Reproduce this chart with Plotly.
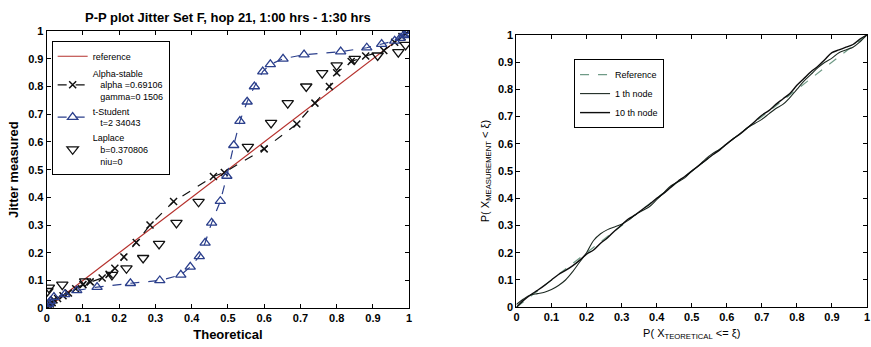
import plotly.graph_objects as go

# ---------------- Left chart data ----------------
ref_x = [0, 1]
ref_y = [0, 1]

alpha_x = [0, 0.003, 0.006, 0.01, 0.015, 0.02, 0.03, 0.045, 0.06, 0.08, 0.10, 0.12, 0.153, 0.172, 0.188, 0.213, 0.247,
           0.285, 0.35, 0.46, 0.49, 0.60, 0.69, 0.74, 0.78, 0.80, 0.84, 0.88, 0.93, 0.96, 0.98, 0.99, 1.0]
alpha_y = [0, 0.005, 0.01, 0.015, 0.02, 0.03, 0.035, 0.045, 0.055, 0.07, 0.085, 0.095, 0.109, 0.122, 0.144, 0.185, 0.237,
           0.30, 0.385, 0.475, 0.49, 0.575, 0.665, 0.74, 0.80, 0.85, 0.89, 0.91, 0.93, 0.96, 0.98, 0.99, 1.0]

tstud_x = [0, 0.005, 0.01, 0.02, 0.05, 0.083, 0.139, 0.231, 0.312, 0.37, 0.396, 0.421, 0.437, 0.455, 0.479, 0.497,
           0.516, 0.533, 0.553, 0.573, 0.596, 0.617, 0.652, 0.71, 0.811, 0.883, 0.924, 0.96, 0.975, 0.985, 0.993, 1.0]
tstud_y = [0.005, 0.015, 0.025, 0.04, 0.05, 0.064, 0.076, 0.09, 0.10, 0.12, 0.149, 0.187, 0.236, 0.308, 0.386, 0.477,
           0.588, 0.675, 0.745, 0.80, 0.854, 0.88, 0.90, 0.915, 0.926, 0.94, 0.953, 0.965, 0.975, 0.985, 0.99, 1.0]

lap_x = [0.002, 0.006, 0.043, 0.106, 0.18, 0.22, 0.266, 0.31, 0.358, 0.419, 0.555, 0.619, 0.665, 0.716, 0.76, 0.80,
         0.85, 0.913, 0.97, 0.99]
lap_y = [0.062, 0.074, 0.085, 0.097, 0.12, 0.144, 0.181, 0.232, 0.308, 0.384, 0.582, 0.669, 0.74, 0.80, 0.848, 0.876,
         0.90, 0.912, 0.924, 0.95]

# ---------------- Right chart data ----------------
node_x = [0, 0.02, 0.04, 0.06, 0.08, 0.10, 0.12, 0.14, 0.16, 0.18, 0.20, 0.22, 0.24, 0.26, 0.28, 0.30, 0.32, 0.34,
          0.36, 0.38, 0.40, 0.42, 0.44, 0.46, 0.48, 0.50, 0.52, 0.54, 0.56, 0.58, 0.60, 0.62, 0.64, 0.66, 0.68, 0.70,
          0.72, 0.74, 0.76, 0.78, 0.80, 0.82, 0.84, 0.86, 0.88, 0.90, 0.92, 0.94, 0.96, 0.98, 1.0]
node1_y = [0.01, 0.03, 0.045, 0.05, 0.055, 0.065, 0.08, 0.10, 0.13, 0.165, 0.20, 0.245, 0.27, 0.285, 0.295, 0.305,
           0.32, 0.34, 0.355, 0.37, 0.395, 0.42, 0.445, 0.46, 0.475, 0.50, 0.52, 0.545, 0.565, 0.58, 0.60, 0.62, 0.64,
           0.66, 0.675, 0.69, 0.71, 0.73, 0.745, 0.77, 0.80, 0.83, 0.855, 0.88, 0.90, 0.915, 0.935, 0.945, 0.955,
           0.975, 1.0]
node10_y = [0, 0.025, 0.045, 0.062, 0.08, 0.10, 0.12, 0.135, 0.152, 0.172, 0.195, 0.21, 0.235, 0.255, 0.28, 0.302,
            0.325, 0.34, 0.36, 0.378, 0.40, 0.418, 0.44, 0.462, 0.48, 0.50, 0.52, 0.54, 0.56, 0.578, 0.60, 0.62,
            0.638, 0.66, 0.682, 0.705, 0.722, 0.745, 0.765, 0.785, 0.815, 0.84, 0.865, 0.885, 0.91, 0.935, 0.945,
            0.955, 0.965, 0.985, 1.0]
nref_x = [0, 1]
nref_y = [0, 1]

tick_vals = [0, 0.1, 0.2, 0.3, 0.4, 0.5, 0.6, 0.7, 0.8, 0.9, 1]
tick_text = ["0", "0.1", "0.2", "0.3", "0.4", "0.5", "0.6", "0.7", "0.8", "0.9", "1"]

FONT = "Liberation Sans"
W, H = 871, 347

fig = go.Figure()

# Left traces
fig.add_trace(go.Scatter(x=ref_x, y=ref_y, mode="lines", name="reference",
                         line=dict(color="#b5302c", width=1.2), xaxis="x", yaxis="y", legend="legend"))
fig.add_trace(go.Scatter(x=alpha_x, y=alpha_y, mode="lines+markers",
                         name="Alpha-stable<br>   alpha =0.69106<br>   gamma=0 1506",
                         line=dict(color="#111111", width=1.2, dash="dash"),
                         marker=dict(symbol="x-thin-open", size=7, color="#111111", line=dict(width=1.5, color="#111111")),
                         xaxis="x", yaxis="y", legend="legend"))
fig.add_trace(go.Scatter(x=tstud_x, y=tstud_y, mode="lines+markers",
                         name="t-Student<br>   t=2 34043",
                         line=dict(color="#2b3f8c", width=1.2, dash="dash"),
                         marker=dict(symbol="triangle-up-open", size=9, color="#2b3f8c", line=dict(width=1.3, color="#2b3f8c")),
                         xaxis="x", yaxis="y", legend="legend"))
fig.add_trace(go.Scatter(x=lap_x, y=lap_y, mode="markers",
                         name="Laplace<br>   b=0.370806<br>   niu=0",
                         marker=dict(symbol="triangle-down-open", size=10, color="#111111", line=dict(width=1.3, color="#111111")),
                         xaxis="x", yaxis="y", legend="legend"))

# Right traces
fig.add_trace(go.Scatter(x=nref_x, y=nref_y, mode="lines", name="Reference",
                         line=dict(color="#6f9a86", width=1.2, dash="dash"),
                         xaxis="x2", yaxis="y2", legend="legend2"))
fig.add_trace(go.Scatter(x=node_x, y=node1_y, mode="lines", name="1 th node",
                         line=dict(color="#1d2a22", width=1.1, shape="spline"),
                         xaxis="x2", yaxis="y2", legend="legend2"))
fig.add_trace(go.Scatter(x=node_x, y=node10_y, mode="lines", name="10 th node",
                         line=dict(color="#0d0d0d", width=1.4, shape="spline"),
                         xaxis="x2", yaxis="y2", legend="legend2"))

axis_common = dict(showline=True, linecolor="black", linewidth=1, mirror="ticks", ticks="inside",
                   ticklen=4, tickcolor="black", showgrid=False, zeroline=False,
                   tickvals=tick_vals, ticktext=tick_text,
                   tickfont=dict(family=FONT, size=11, color="black", weight="bold"))

fig.update_layout(
    width=W, height=H,
    margin=dict(l=0, r=0, t=0, b=0),
    paper_bgcolor="white", plot_bgcolor="white",
    font=dict(family=FONT, color="black"),
    xaxis=dict(domain=[44 / W, 409 / W], range=[0, 1], anchor="y",
               title=dict(text="Theoretical", font=dict(size=13, weight="bold"), standoff=6),
               **axis_common),
    yaxis=dict(domain=[1 - 313 / H, 1 - 26 / H], range=[0, 1], anchor="x",
               title=dict(text="Jitter measured", font=dict(size=13, weight="bold"), standoff=6),
               **axis_common),
    xaxis2=dict(domain=[517 / W, 870 / W], range=[0, 1], anchor="y2",
                title=dict(text="P( X<sub>TEORETICAL</sub> <= ξ)", font=dict(size=11), standoff=6),
                **axis_common),
    yaxis2=dict(domain=[1 - 312 / H, 1 - 30 / H], range=[0, 1], anchor="x2",
                title=dict(text="P( X<sub>MEASUREMENT</sub> < ξ)", font=dict(size=11), standoff=6),
                **axis_common),
    legend=dict(x=49 / W, y=1 - 36 / H, xanchor="left", yanchor="top",
                bordercolor="black", borderwidth=1, bgcolor="white",
                font=dict(family=FONT, size=9, color="black"),
                tracegroupgap=0, itemwidth=30, valign="middle"),
    legend2=dict(x=575 / W, y=1 - 55 / H, xanchor="left", yanchor="top",
                 bordercolor="black", borderwidth=1, bgcolor="white",
                 font=dict(family=FONT, size=9, color="black"),
                 tracegroupgap=0, itemwidth=30),
    annotations=[dict(text="P-P plot Jitter Set F, hop 21, 1:00 hrs - 1:30 hrs",
                      x=(44 + 409) / 2 / W, y=1 - 12 / H, xref="paper", yref="paper",
                      xanchor="center", yanchor="middle", showarrow=False,
                      font=dict(family=FONT, size=13, weight="bold", color="black"))],
)

fig.write_html("out.html")
